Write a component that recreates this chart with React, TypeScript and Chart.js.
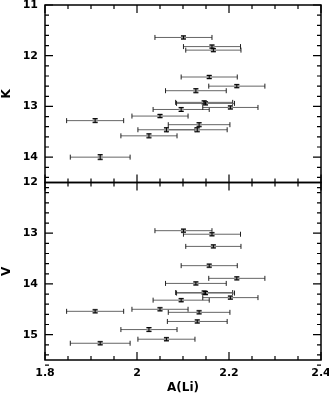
import React, { useEffect, useRef } from 'react';
import { Chart, registerables } from 'chart.js';
Chart.register(...registerables);

// A(Li) abundance and its error (x)
const aLi = [1.909, 1.920, 2.026, 2.050, 2.064, 2.096, 2.101, 2.128, 2.131, 2.135, 2.146, 2.149, 2.157, 2.163, 2.166, 2.203, 2.217];
const aLiErr = [0.062, 0.065, 0.061, 0.061, 0.062, 0.061, 0.062, 0.066, 0.065, 0.067, 0.062, 0.063, 0.061, 0.062, 0.060, 0.060, 0.061];
// K magnitudes and errors
const kMag = [13.28, 14.00, 13.58, 13.19, 13.46, 13.06, 11.64, 12.69, 13.46, 13.36, 12.92, 12.94, 12.42, 11.82, 11.89, 13.02, 12.60];
const kErr = [0.04, 0.05, 0.04, 0.03, 0.04, 0.04, 0.03, 0.04, 0.04, 0.04, 0.03, 0.03, 0.03, 0.03, 0.03, 0.03, 0.03];
// V magnitudes and errors
const vMag = [14.54, 15.17, 14.90, 14.50, 15.09, 14.32, 12.95, 13.99, 14.74, 14.56, 14.17, 14.18, 13.64, 13.02, 13.26, 14.27, 13.89];
const vErr = [0.03, 0.03, 0.04, 0.03, 0.03, 0.03, 0.03, 0.03, 0.03, 0.03, 0.03, 0.03, 0.03, 0.03, 0.03, 0.03, 0.03];

const xTicks = [1.8, 2, 2.2, 2.4];
const kTicks = [11, 12, 13, 14];
const vTicks = [12, 13, 14, 15];

const FONT = { family: 'DejaVu Sans', weight: 'bold' as const, size: 11 };

const panelPlugin = {
  id: 'panelPlugin',
  beforeDatasetsDraw(chart: any) {
    const ctx = chart.ctx;
    const xs = chart.scales.x;
    const panels = [
      { s: chart.scales.yK, m: kMag },
      { s: chart.scales.yV, m: vMag },
    ];
    ctx.save();
    for (const p of panels) {
      for (let i = 0; i < aLi.length; i++) {
        const x0 = xs.getPixelForValue(aLi[i] - aLiErr[i]);
        const x1 = xs.getPixelForValue(aLi[i] + aLiErr[i]);
        const y = p.s.getPixelForValue(p.m[i]);
        ctx.strokeStyle = '#666';
        ctx.lineWidth = 1;
        ctx.beginPath();
        ctx.moveTo(x0, y); ctx.lineTo(x1, y);
        ctx.stroke();
        ctx.strokeStyle = '#222';
        ctx.beginPath();
        ctx.moveTo(x0, y - 2.5); ctx.lineTo(x0, y + 2.5);
        ctx.moveTo(x1, y - 2.5); ctx.lineTo(x1, y + 2.5);
        ctx.stroke();
      }
    }
    ctx.restore();
  },
  afterDatasetsDraw(chart: any) {
    const ctx = chart.ctx;
    const xs = chart.scales.x;
    const panels = [
      { s: chart.scales.yK, m: kMag, e: kErr },
      { s: chart.scales.yV, m: vMag, e: vErr },
    ];
    ctx.save();
    ctx.strokeStyle = '#000';
    ctx.lineWidth = 1;
    for (const p of panels) {
      for (let i = 0; i < aLi.length; i++) {
        const xc = xs.getPixelForValue(aLi[i]);
        const ya = p.s.getPixelForValue(p.m[i] - p.e[i]);
        const yb = p.s.getPixelForValue(p.m[i] + p.e[i]);
        ctx.beginPath();
        ctx.moveTo(xc, ya); ctx.lineTo(xc, yb);
        ctx.moveTo(xc - 2.5, ya); ctx.lineTo(xc + 2.5, ya);
        ctx.moveTo(xc - 2.5, yb); ctx.lineTo(xc + 2.5, yb);
        ctx.stroke();
      }
    }
    ctx.restore();
  },
  afterDraw(chart: any) {
    const ctx = chart.ctx;
    const xs = chart.scales.x;
    const left = chart.chartArea.left;
    const right = chart.chartArea.right;
    ctx.save();
    ctx.strokeStyle = '#000';
    for (const s of [chart.scales.yK, chart.scales.yV]) {
      const top = s.top;
      const bottom = s.bottom;
      ctx.lineWidth = 1.5;
      ctx.strokeRect(left, top, right - left, bottom - top);
      ctx.lineWidth = 1.2;
      ctx.beginPath();
      // x ticks every 0.05, major every 0.2
      for (let k = 0; k <= 12; k++) {
        const v = 1.8 + k * 0.05;
        const px = xs.getPixelForValue(v);
        const len = k % 4 === 0 ? 8 : 4;
        ctx.moveTo(px, bottom); ctx.lineTo(px, bottom - len);
        ctx.moveTo(px, top); ctx.lineTo(px, top + len);
      }
      // y ticks every 0.2, major every 1
      const mn = s.min;
      const n = Math.round((s.max - s.min) / 0.2);
      for (let k = 0; k <= n; k++) {
        const v = mn + k * 0.2;
        const py = s.getPixelForValue(v);
        const len = k % 5 === 0 ? 8 : 4;
        ctx.moveTo(left, py); ctx.lineTo(left + len, py);
        ctx.moveTo(right, py); ctx.lineTo(right - len, py);
      }
      ctx.stroke();
    }
    ctx.restore();
  },
};

export default function App() {
  const ref = useRef<HTMLCanvasElement | null>(null);
  useEffect(() => {
    if (!ref.current) return;
    const pts = (m: number[]) => aLi.map((x, i) => ({ x, y: m[i] }));
    const yScale = (min: number, max: number, ticks: number[], title: string) => ({
      type: 'linear',
      position: 'left',
      stack: 'panels',
      stackWeight: 1,
      reverse: true,
      min,
      max,
      grid: { display: false, drawTicks: false },
      border: { display: false },
      ticks: { font: FONT, color: '#000', padding: 7, callback: (v: any) => String(v) },
      title: { display: true, text: title, font: { family: 'DejaVu Sans', weight: 'bold', size: 12 }, color: '#000', padding: { top: 0, bottom: 0 } },
      afterBuildTicks: (s: any) => { s.ticks = ticks.map((value) => ({ value })); },
      afterFit: (s: any) => { s.width = 45; s.paddingTop = 0; s.paddingBottom = 0; },
    });
    const chart = new Chart(ref.current, {
      type: 'scatter',
      data: {
        datasets: [
          { data: pts(kMag), yAxisID: 'yK', pointStyle: 'rect', pointRadius: 3.5, backgroundColor: '#9a9a9a', borderWidth: 0 },
          { data: pts(vMag), yAxisID: 'yV', pointStyle: 'rect', pointRadius: 3.5, backgroundColor: '#9a9a9a', borderWidth: 0 },
        ],
      },
      options: {
        animation: false,
        responsive: false,
        layout: { padding: { top: 5, right: 8, left: 0, bottom: 0 } },
        plugins: { legend: { display: false }, tooltip: { enabled: false } },
        scales: {
          x: {
            type: 'linear',
            position: 'bottom',
            min: 1.8,
            max: 2.4,
            grid: { display: false, drawTicks: false },
            border: { display: false },
            ticks: { font: FONT, color: '#000', padding: 7, maxRotation: 0, callback: (v: any) => String(v) },
            title: { display: true, text: 'A(Li)', font: { family: 'DejaVu Sans', weight: 'bold', size: 12 }, color: '#000', padding: { top: 0, bottom: 0 } },
            afterBuildTicks: (s: any) => { s.ticks = xTicks.map((value) => ({ value })); },
            afterFit: (s: any) => { s.height = 35; s.paddingLeft = 0; s.paddingRight = 0; },
          },
          yV: yScale(12, 15.5, vTicks, 'V'),
          yK: yScale(11, 14.5, kTicks, 'K'),
        } as any,
      },
      plugins: [panelPlugin],
    } as any);
    return () => chart.destroy();
  }, []);
  return (
    <div style={{ position: 'absolute', left: 0, top: 0, width: 329, height: 395, background: '#fff' }}>
      <canvas ref={ref} width={329} height={395} style={{ display: 'block' }} />
    </div>
  );
}
